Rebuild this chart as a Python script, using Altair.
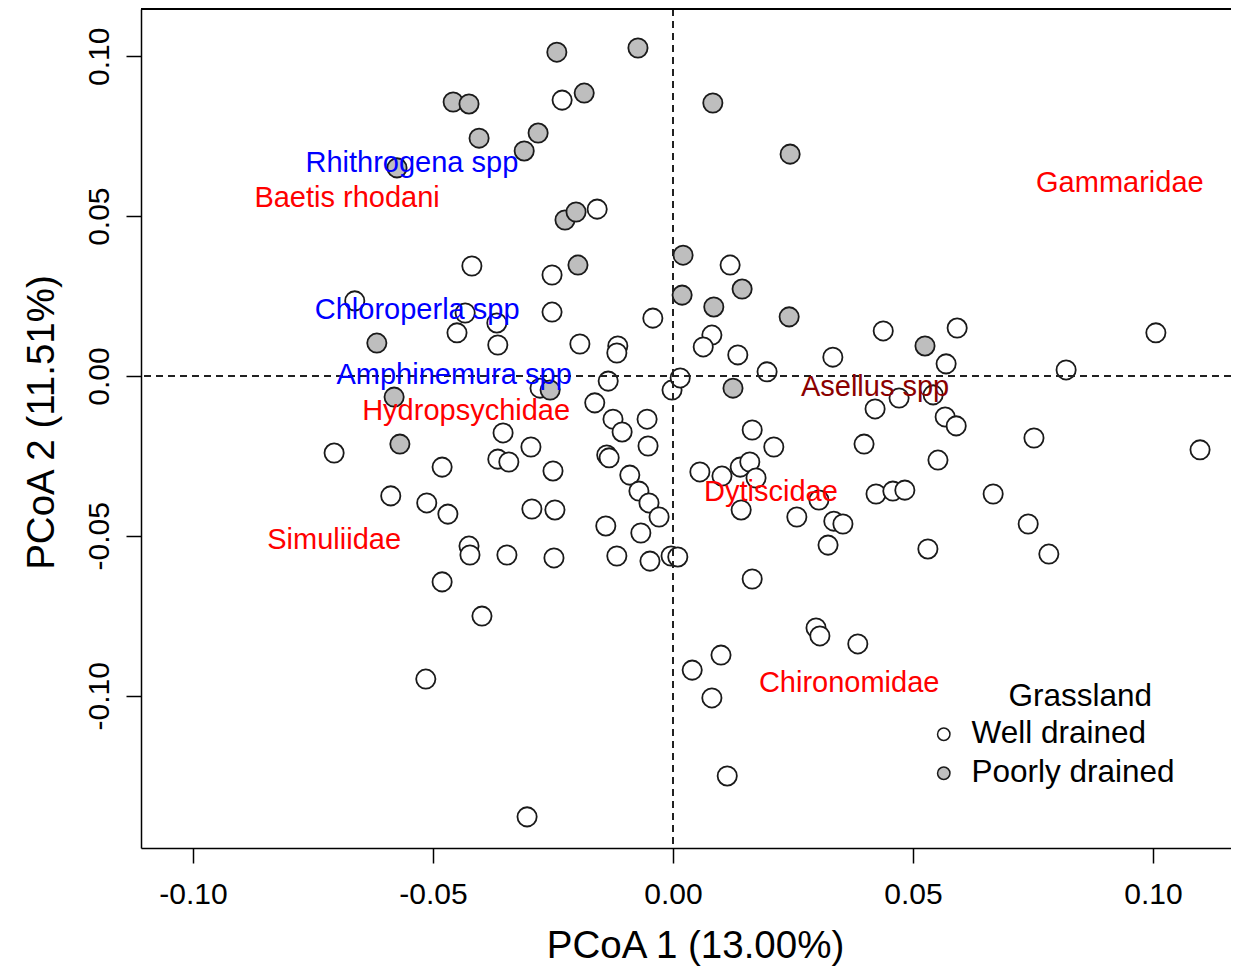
import altair as alt
import pandas as pd

# ---- data ----
well_x = [-0.0231, -0.0158, -0.0663, -0.0419, -0.0252, -0.0252, -0.0433, -0.0450, -0.0367, -0.0365,
          -0.0042, -0.0194, -0.0115, -0.0117, -0.0135, -0.0277, -0.0002, 0.0015, -0.0163, -0.0125,
          -0.0054, -0.0106, -0.0052, -0.0354, -0.0296, -0.0365, -0.0342, -0.0481, -0.0250, -0.0138,
          -0.0133, -0.0090, -0.0071, -0.0050, -0.0029, -0.0067, -0.0140, -0.0513, -0.0469, -0.0294,
          -0.0246, -0.0425, -0.0423, -0.0346, -0.0248, -0.0117, -0.0048, -0.0004, 0.0010, -0.0481,
          -0.0398, -0.0706, -0.0588, -0.0515, -0.0304, 0.0119, 0.0081, 0.0063, 0.0135, 0.0196,
          0.0333, 0.0438, 0.0592, 0.0569, 0.0819, 0.1006, 0.0421, 0.0471, 0.0542, 0.0567,
          0.0590, 0.0165, 0.0210, 0.0398, 0.0552, 0.0752, 0.1098, 0.0056, 0.0102, 0.0140,
          0.0160, 0.0173, 0.0142, 0.0258, 0.0304, 0.0335, 0.0354, 0.0323, 0.0423, 0.0458,
          0.0483, 0.0531, 0.0667, 0.0740, 0.0783, 0.0165, 0.0298, 0.0306, 0.0385, 0.0100,
          0.0040, 0.0081, 0.0113]
well_y = [0.0863, 0.0522, 0.0235, 0.0344, 0.0316, 0.0200, 0.0197, 0.0135, 0.0166, 0.0097,
          0.0181, 0.0100, 0.0094, 0.0072, -0.0016, -0.0038, -0.0044, -0.0006, -0.0084, -0.0135,
          -0.0135, -0.0175, -0.0219, -0.0178, -0.0222, -0.0260, -0.0269, -0.0285, -0.0297, -0.0247,
          -0.0256, -0.0310, -0.0360, -0.0397, -0.0441, -0.0491, -0.0469, -0.0397, -0.0432, -0.0416,
          -0.0419, -0.0532, -0.0560, -0.0560, -0.0569, -0.0563, -0.0579, -0.0563, -0.0566, -0.0644,
          -0.0751, -0.0241, -0.0375, -0.0948, -0.1379, 0.0347, 0.0128, 0.0091, 0.0066, 0.0013,
          0.0059, 0.0141, 0.0150, 0.0038, 0.0019, 0.0135, -0.0103, -0.0069, -0.0059, -0.0128,
          -0.0156, -0.0169, -0.0222, -0.0213, -0.0263, -0.0194, -0.0231, -0.0300, -0.0313, -0.0285,
          -0.0269, -0.0319, -0.0419, -0.0441, -0.0388, -0.0454, -0.0463, -0.0529, -0.0369, -0.0360,
          -0.0357, -0.0541, -0.0369, -0.0463, -0.0557, -0.0635, -0.0788, -0.0813, -0.0838, -0.0873,
          -0.0920, -0.1007, -0.1251]

poor_x = [-0.0242, -0.0073, -0.0458, -0.0425, -0.0185, -0.0404, -0.0281, -0.0310, -0.0575, 0.0083,
          0.0244, -0.0225, -0.0202, -0.0198, 0.0021, 0.0019, 0.0144, 0.0085, 0.0242, 0.0525,
          0.0125, -0.0617, -0.0581, -0.0256, -0.0569]
poor_y = [0.1013, 0.1026, 0.0857, 0.0851, 0.0885, 0.0744, 0.0760, 0.0704, 0.0651, 0.0854,
          0.0694, 0.0488, 0.0513, 0.0347, 0.0378, 0.0253, 0.0272, 0.0216, 0.0185, 0.0094,
          -0.0038, 0.0103, -0.0066, -0.0044, -0.0213]

groups = ["Well drained", "Poorly drained"]
group_fill = ["white", "#BEBEBE"]

species = ["Rhithrogena spp", "Baetis rhodani", "Gammaridae", "Chloroperla spp", "Amphinemura spp",
           "Hydropsychidae", "Asellus spp", "Dytiscidae", "Simuliidae", "Chironomidae"]
species_x = [-0.0544, -0.0679, 0.0931, -0.0533, -0.0456, -0.0431, 0.0421, 0.0204, -0.0706, 0.0367]
species_y = [0.0666, 0.0557, 0.0604, 0.0206, 0.0003, -0.0109, -0.0034, -0.0363, -0.0513, -0.0960]
species_col = ["#0000FF", "#FF0000", "#FF0000", "#0000FF", "#0000FF",
               "#FF0000", "#8B0000", "#FF0000", "#FF0000", "#FF0000"]

tick_vals = [-0.10, -0.05, 0.00, 0.05, 0.10]
x_title = "PCoA 1 (13.00%)"
y_title = "PCoA 2 (11.51%)"
legend_title = "Grassland"

# ---- tables ----
pts = pd.concat([
    pd.DataFrame({"x": well_x, "y": well_y, "grp": groups[0]}),
    pd.DataFrame({"x": poor_x, "y": poor_y, "grp": groups[1]}),
], ignore_index=True)
sp = pd.DataFrame({"x": species_x, "y": species_y, "name": species, "col": species_col})

FONT = "Liberation Sans"
W, H = 1090, 839
xdom = [-0.110833, 0.11625]
ydom = [-0.14764, 0.11480]

lab_expr = "datum.value < 0 ? '-' + format(-datum.value, '.2f') : format(datum.value, '.2f')"

xenc = alt.X("x:Q", scale=alt.Scale(domain=xdom, nice=False, zero=False),
             axis=alt.Axis(values=tick_vals, labelExpr=lab_expr, title=x_title,
                           labelBaseline="alphabetic", labelPadding=40,
                           titleX=554, titleY=109, titleBaseline="alphabetic",
                           titleAnchor="start", titleAlign="center"))
yenc = alt.Y("y:Q", scale=alt.Scale(domain=ydom, nice=False, zero=False),
             axis=alt.Axis(values=tick_vals, labelExpr=lab_expr, title=y_title,
                           labelAngle=270, labelAlign="center", labelBaseline="alphabetic",
                           labelPadding=18,
                           titleAngle=270, titleX=-88, titleY=413, titleAlign="center",
                           titleBaseline="alphabetic", titleAnchor="start"))

points = alt.Chart(pts).mark_circle(size=370, stroke="#1a1a1a", strokeWidth=1.8, opacity=1).encode(
    x=xenc, y=yenc,
    fill=alt.Fill("grp:N", scale=alt.Scale(domain=groups, range=group_fill),
                  legend=alt.Legend(
                      title=legend_title + "\u2800", orient="none", legendX=787, legendY=672,
                      direction="vertical", padding=0,
                      titleAnchor="end", titleAlign="right",
                      titleFont=FONT, titleFontSize=31.5,
                      titleFontWeight="normal", titleColor="black", titlePadding=6,
                      titleLimit=400,
                      labelFont=FONT, labelFontSize=31.5, labelColor="black",
                      labelOffset=12, labelLimit=600, rowPadding=6,
                      symbolType="circle", symbolSize=154, symbolStrokeColor="#1a1a1a",
                      symbolStrokeWidth=1.5, symbolOpacity=1)),
)

vline = alt.Chart(pts).mark_rule(color="#222222", strokeWidth=1.4, strokeDash=[7, 5]).encode(
    x=alt.datum(0.0))
hline = alt.Chart(pts).mark_rule(color="#222222", strokeWidth=1.4, strokeDash=[7, 5]).encode(
    y=alt.datum(0.0))
topline = alt.Chart(pts).mark_rule(color="black", strokeWidth=1.5).encode(y=alt.value(0))

labels = alt.Chart(sp).mark_text(font=FONT, fontSize=29, align="center", baseline="middle").encode(
    x="x:Q", y="y:Q", text="name:N", color=alt.Color("col:N", scale=None))

chart = alt.layer(points, vline, hline, topline, labels).properties(
    width=W, height=H,
    padding={"left": 133, "top": 1, "right": 0, "bottom": 119},
    autosize=alt.AutoSizeParams(type="none"),
).configure_view(stroke=None).configure_axis(
    grid=False, domainColor="black", domainWidth=1.5, tickColor="black", tickWidth=1.5,
    tickSize=15, labelFont=FONT, labelFontSize=30, labelColor="black",
    titleFont=FONT, titleFontSize=38.5, titleFontWeight="normal", titleColor="black",
    labelOverlap=False, labelFlush=False,
)

chart.save("out.html", embed_options={"renderer": "svg", "actions": False})
